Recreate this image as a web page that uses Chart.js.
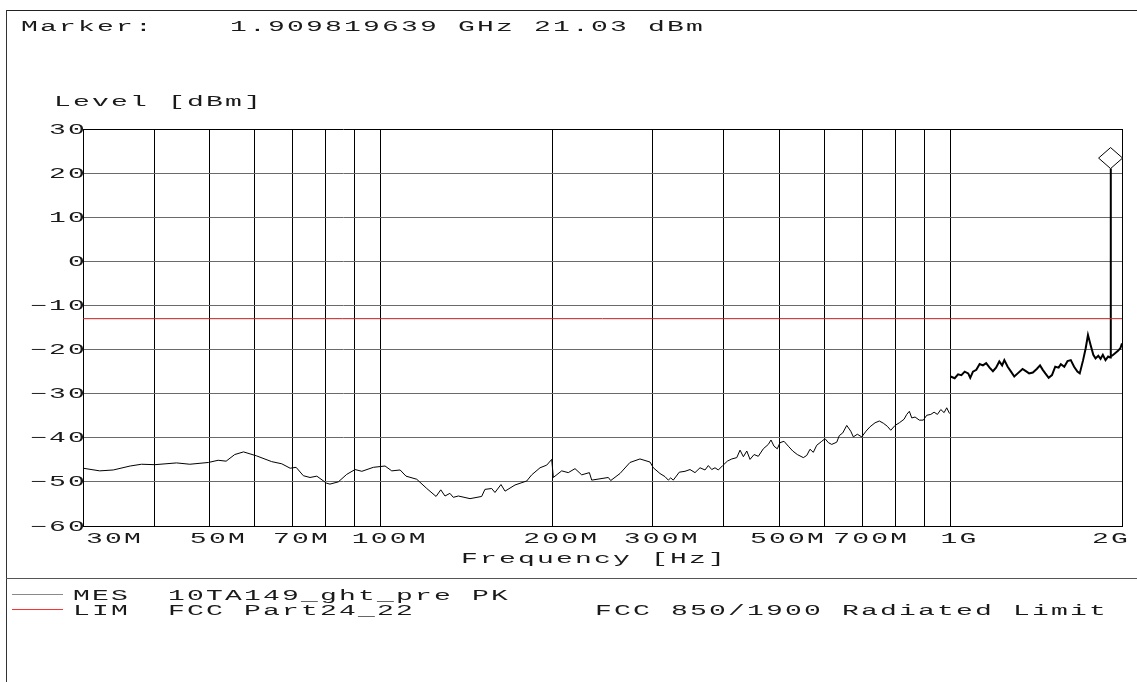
<!DOCTYPE html>
<html>
<head>
<meta charset="utf-8">
<title>MES 10TA149_ght_pre PK</title>
<style>
  html, body { margin: 0; padding: 0; background: #fff; }
  #wrap { position: relative; width: 1137px; height: 682px; overflow: hidden; }
  #plot { position: absolute; left: 0; top: 0; }
  .t {
    position: absolute;
    font: 14px/14px "Liberation Mono", monospace;
    letter-spacing: 1.1px;
    transform: scaleX(2);
    transform-origin: 0 0;
    white-space: pre;
    color: #1a1a1a;
  }
  .rule { position: absolute; }
</style>
<script src="https://cdn.jsdelivr.net/npm/chart.js"></script>
</head>
<body>
<div id="wrap">
  <canvas id="plot" width="1137" height="682"></canvas>

  <div class="rule" style="left:6px;top:10px;width:1131px;height:1px;background:#222"></div>
  <div class="rule" style="left:6px;top:10px;width:1px;height:672px;background:#333"></div>
  <div class="rule" style="left:6px;top:578px;width:1131px;height:1px;background:#555"></div>

  <div class="t" style="left:21px;top:20px">Marker:    1.909819639 GHz 21.03 dBm</div>
  <div class="t" style="left:54px;top:95px">Level [dBm]</div>
  <div class="t" style="left:461px;top:552px">Frequency [Hz]</div>

  <div class="rule" style="left:12px;top:594px;width:51px;height:1px;background:#8a8a8a"></div>
  <div class="rule" style="left:12px;top:609px;width:51px;height:1px;background:#ff3030"></div>
  <div class="t" style="left:73px;top:589px">MES  10TA149_ght_pre PK</div>
  <div class="t" style="left:73px;top:604px">LIM  FCC Part24_22</div>
  <div class="t" style="left:595px;top:604px">FCC 850/1900 Radiated Limit</div>
</div>

<script>
// scan 1: 30 MHz - 1 GHz
const lowMHz = [
  30, 32.1, 33.9, 36.3, 38.0, 40.1, 43.8, 46.2, 49.8, 51.8,
  53.5, 55.4, 57.4, 60.5, 64.3, 67.0, 69.3, 71.0, 73.1, 75.1,
  77.2, 80.3, 81.4, 84.2, 87.1, 90.1, 92.6, 97.0, 101.7, 104.5,
  108.1, 110.7, 115.6, 120.4, 125.0, 127.4, 129.6, 132.2, 134.0, 136.8,
  143.4, 150.3, 152.3, 156.5, 158.6, 162.5, 165.2, 172.0, 180.3, 184.0,
  190.3, 195.5, 199.5, 200.8, 207.7, 213.3, 219.2, 225.2, 232.3, 234.5,
  242.5, 250.8, 253.2, 262.9, 273.7, 285.0, 296.8, 300.8, 309.0, 315.3,
  319.6, 322.7, 326.1, 334.1, 341.9, 348.9, 356.0, 363.3, 370.7, 375.7,
  380.9, 386.0, 391.2, 398.2, 405.7, 413.1, 421.5, 427.1, 432.9, 438.9,
  444.7, 452.0, 459.8, 469.2, 478.8, 484.0, 489.9, 496.5, 502.0, 510.2,
  519.1, 528.5, 538.4, 551.6, 559.3, 566.7, 574.3, 582.3, 594.2, 602.2,
  610.3, 618.7, 631.3, 638.0, 646.8, 657.4, 668.1, 675.2, 686.1, 698.5,
  710.7, 722.3, 737.1, 750.0, 762.3, 774.7, 785.4, 799.2, 813.2, 828.8,
  837.9, 846.7, 855.0, 866.5, 881.6, 895.9, 908.3, 923.5, 935.8, 948.4,
  961.5, 974.4, 984.8, 996
];
const lowDbm = [
  -46.9, -47.5, -47.3, -46.4, -46.0, -46.1, -45.7, -46.0, -45.6, -45.1,
  -45.3, -43.8, -43.2, -44.1, -45.4, -45.9, -46.9, -46.7, -48.6, -49.0,
  -48.7, -50.3, -50.5, -50.0, -48.3, -47.2, -47.6, -46.7, -46.4, -47.5,
  -47.3, -48.7, -49.4, -51.5, -53.3, -51.8, -53.2, -52.6, -53.5, -53.2,
  -53.8, -53.3, -51.7, -51.5, -52.4, -50.6, -52.1, -50.7, -49.8, -48.4,
  -46.8, -46.2, -44.9, -49.0, -47.5, -47.9, -47.0, -48.4, -47.9, -49.6,
  -49.3, -49.0, -49.7, -48.1, -45.6, -44.8, -45.5, -46.8, -48.1, -48.8,
  -49.6, -49.1, -49.6, -47.8, -47.6, -47.2, -47.9, -46.8, -47.3, -46.3,
  -47.2, -46.8, -47.3, -46.3, -45.3, -44.8, -44.5, -42.8, -44.3, -43.0,
  -44.9, -43.8, -44.2, -42.5, -41.5, -40.5, -41.9, -42.5, -41.1, -40.8,
  -41.9, -43.0, -43.8, -44.5, -44.0, -42.6, -43.3, -41.7, -40.8, -40.2,
  -41.1, -41.5, -41.0, -39.5, -38.9, -37.2, -38.5, -39.8, -39.2, -39.8,
  -38.5, -37.5, -36.6, -36.2, -36.7, -37.4, -38.3, -37.2, -36.6, -35.8,
  -34.7, -34.0, -35.5, -35.3, -36.0, -36.0, -34.9, -34.7, -34.2, -34.7,
  -33.6, -34.3, -33.2, -34.5
];

// scan 2: 1 GHz - 2 GHz (with the carrier at the marker)
const highMHz = [
  1000, 1017, 1031, 1045, 1059, 1074, 1083, 1095, 1110, 1125,
  1140, 1155, 1171, 1187, 1202, 1218, 1232, 1243, 1260, 1277,
  1294, 1312, 1338, 1356, 1374, 1395, 1417, 1436, 1452, 1467,
  1487, 1507, 1527, 1548, 1562, 1584, 1605, 1626, 1648, 1670,
  1686, 1709, 1727, 1743, 1762, 1781, 1797, 1817, 1834, 1851,
  1871, 1891, 1906, 1909.82, 1913, 1922, 1947, 1968, 1987, 2000
];
const highDbm = [
  -26.1, -26.5, -25.6, -25.8, -25.0, -25.4, -26.4, -25.0, -24.6, -23.3,
  -23.6, -23.1, -24.1, -24.9, -24.1, -22.7, -23.6, -22.4, -23.9, -25.0,
  -26.1, -25.4, -24.4, -24.9, -25.4, -25.2, -24.4, -23.6, -24.6, -25.4,
  -26.4, -25.8, -23.9, -24.1, -23.3, -23.9, -22.6, -22.4, -23.9, -25.0,
  -25.4, -22.4, -19.7, -16.7, -19.0, -21.2, -22.0, -21.4, -22.1, -21.2,
  -22.4, -21.6, -21.8, 21.03, -21.5, -21.4, -20.8, -20.3, -19.7, -18.6
];

const limitMHz = [30, 2000];
const limitDbm = [-13, -13];

const markerMHz = 1909.819639;
const markerDbm = 21.03;

const xGridMHz = [30, 40, 50, 60, 70, 80, 90, 100, 200, 300, 400, 500, 600, 700, 800, 900, 1000, 2000];
const xLabelMHz = [30, 50, 70, 100, 200, 300, 500, 700, 1000, 2000];
const xLabelText = ['30M', '50M', '70M', '100M', '200M', '300M', '500M', '700M', '1G', '2G'];
const yTickValues = [30, 20, 10, 0, -10, -20, -30, -40, -50, -60];
const yTickLabels = ['30', '20', '10', '0', '\u221210', '\u221220', '\u221230', '\u221240', '\u221250', '\u221260'];

function toXY(xs, ys) {
  return xs.map((f, i) => ({ x: f, y: ys[i] }));
}

// plotter style text: mono font stretched 2x wide
function wideText(ctx, text, x, y) {
  ctx.save();
  ctx.translate(x, y);
  ctx.scale(2, 1);
  ctx.fillText(text, 0, 0);
  ctx.restore();
}

const plotterText = {
  id: 'plotterText',
  afterDraw(chart) {
    const ctx = chart.ctx;
    const area = chart.chartArea;
    const xs = chart.scales.x;
    const ys = chart.scales.y;
    ctx.save();
    ctx.font = '14px "Liberation Mono", monospace';
    ctx.letterSpacing = '1.1px';
    ctx.fillStyle = '#1a1a1a';
    ctx.textBaseline = 'alphabetic';

    yTickValues.forEach((v, i) => {
      const w = ctx.measureText(yTickLabels[i]).width * 2;
      wideText(ctx, yTickLabels[i], area.left + 4 - w, ys.getPixelForValue(v) + 4.6);
    });

    xLabelMHz.forEach((v, i) => {
      const w = ctx.measureText(xLabelText[i]).width * 2;
      let left = xs.getPixelForValue(v) - w / 2 + 9;
      if (left < area.left + 3) left = area.left + 3;
      if (left + w > area.right + 8) left = area.right + 8 - w;
      wideText(ctx, xLabelText[i], left, area.bottom + 17);
    });
    ctx.restore();
  }
};

const markerDiamond = {
  id: 'markerDiamond',
  afterDatasetsDraw(chart) {
    const ctx = chart.ctx;
    const px = chart.scales.x.getPixelForValue(markerMHz);
    const py = chart.scales.y.getPixelForValue(markerDbm);
    ctx.save();
    ctx.beginPath();
    ctx.moveTo(px, py);
    ctx.lineTo(px + 12, py - 10.5);
    ctx.lineTo(px, py - 21);
    ctx.lineTo(px - 12, py - 10.5);
    ctx.closePath();
    ctx.fillStyle = '#fff';
    ctx.fill();
    ctx.strokeStyle = '#000';
    ctx.lineWidth = 1;
    ctx.stroke();
    ctx.restore();
  }
};

new Chart(document.getElementById('plot'), {
  type: 'line',
  data: {
    datasets: [
      { label: 'LIM', data: toXY(limitMHz, limitDbm), borderColor: '#c42020', borderWidth: 1, pointRadius: 0 },
      { label: 'MES', data: toXY(lowMHz, lowDbm), borderColor: '#000', borderWidth: 1, pointRadius: 0 },
      { label: 'MES', data: toXY(highMHz, highDbm), borderColor: '#000', borderWidth: 2, pointRadius: 0 }
    ]
  },
  options: {
    responsive: false,
    animation: false,
    events: [],
    layout: { padding: { left: 83, top: 129, right: 15, bottom: 156 } },
    plugins: { legend: { display: false }, tooltip: { enabled: false } },
    elements: { line: { tension: 0 } },
    scales: {
      x: {
        type: 'logarithmic',
        min: 30,
        max: 2000,
        afterBuildTicks: s => { s.ticks = xGridMHz.map(v => ({ value: v })); },
        afterFit: s => { s.height = 0; },
        ticks: { display: false },
        grid: { color: '#000', lineWidth: 1, drawTicks: false },
        border: { color: '#000' }
      },
      y: {
        min: -60,
        max: 30,
        afterFit: s => { s.width = 0; },
        ticks: { display: false, stepSize: 10 },
        grid: {
          color: c => (c.tick && c.tick.value === 30 ? '#000' : '#6a6a6a'),
          lineWidth: 1,
          drawTicks: false
        },
        border: { color: '#000' }
      }
    }
  },
  plugins: [plotterText, markerDiamond]
});
</script>
</body>
</html>
